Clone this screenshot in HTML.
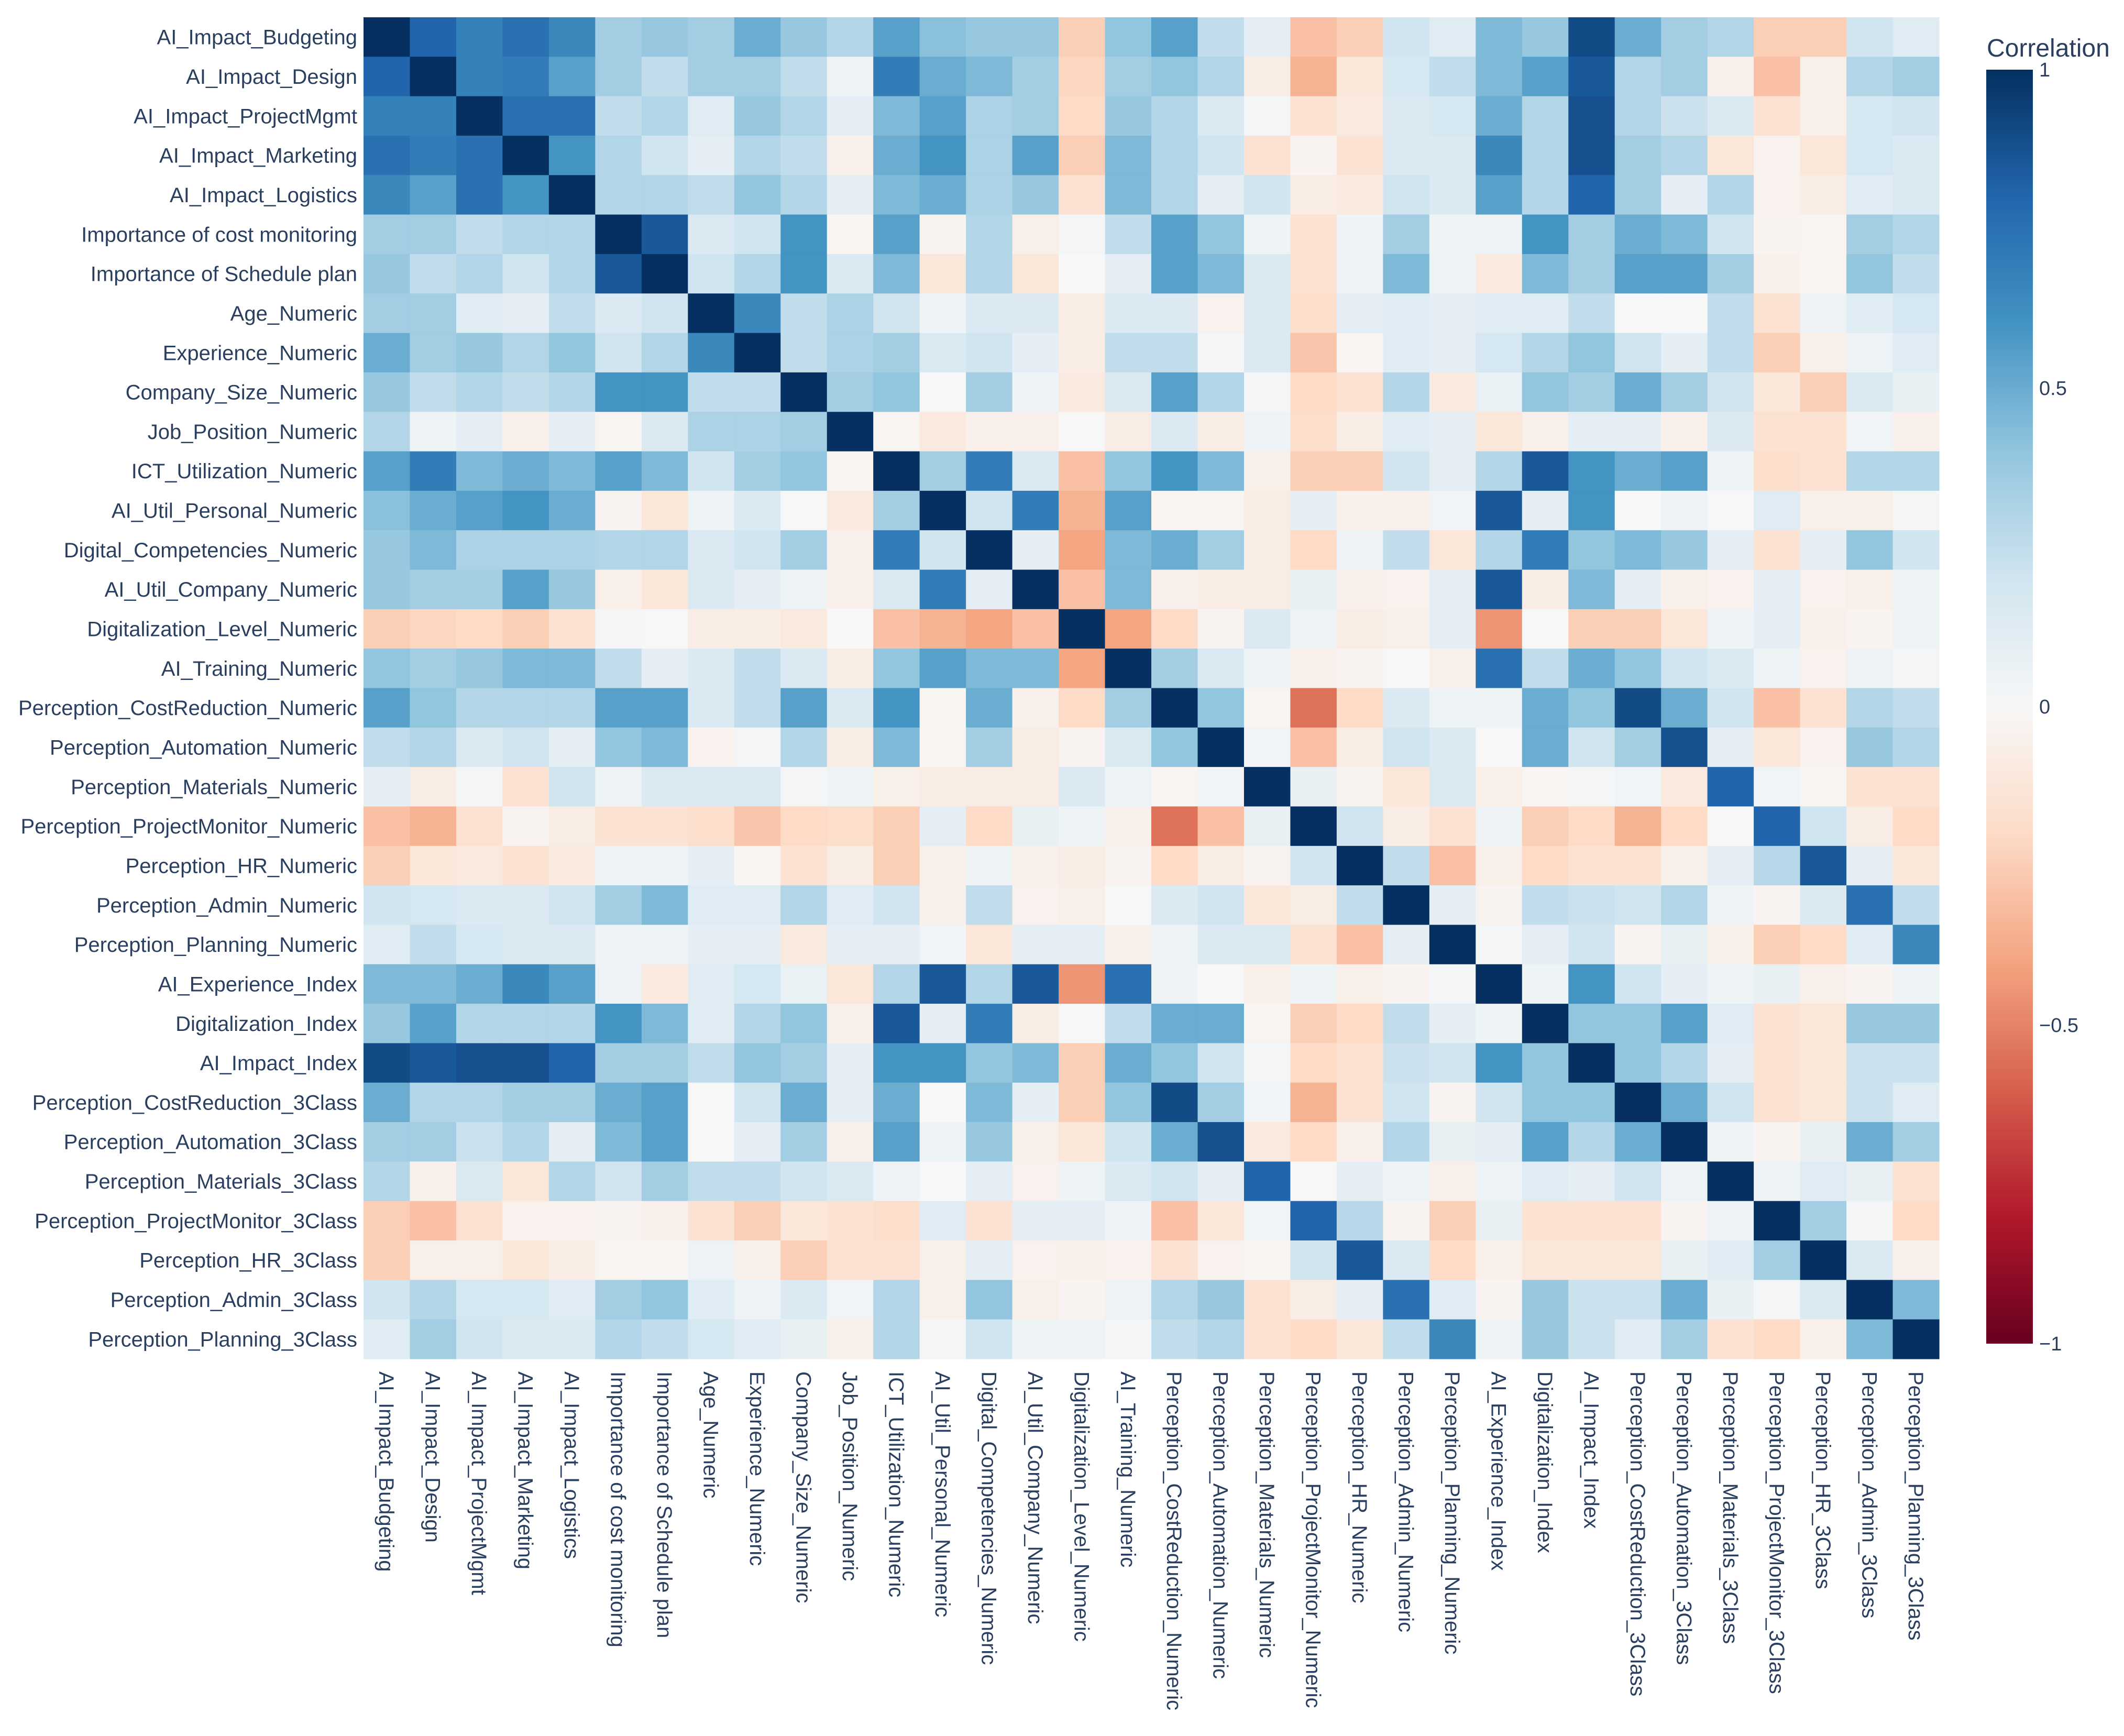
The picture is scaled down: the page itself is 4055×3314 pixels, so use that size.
<!DOCTYPE html>
<html><head><meta charset="utf-8">
<style>
html,body{margin:0;padding:0;background:#fff;}
svg text{font-family:"Liberation Sans",Arial,sans-serif;fill:#2a3f5f;}
</style></head>
<body>
<svg id="chart" width="4055" height="3309" xmlns="http://www.w3.org/2000/svg">
<defs>
<linearGradient id="cbgrad" x1="0" y1="0" x2="0" y2="1">
<stop offset="0" stop-color="#053061"/><stop offset="0.1" stop-color="#2166ac"/><stop offset="0.2" stop-color="#4393c3"/><stop offset="0.3" stop-color="#92c5de"/><stop offset="0.4" stop-color="#d1e5f0"/><stop offset="0.5" stop-color="#f7f7f7"/><stop offset="0.6" stop-color="#fddbc7"/><stop offset="0.7" stop-color="#f4a582"/><stop offset="0.8" stop-color="#d6604d"/><stop offset="0.9" stop-color="#b2182b"/><stop offset="1" stop-color="#67001f"/>
</linearGradient>
</defs>
<g id="cells"></g>
<g id="ylabels"></g>
<g id="xlabels"></g>
<g>
<text x="3793" y="108" font-size="48">Correlation</text>
<rect x="3792" y="133" width="89" height="2432" fill="url(#cbgrad)"/>
<g id="cbticks"></g>
</g>
</svg>
<script>
const labels = ["AI_Impact_Budgeting","AI_Impact_Design","AI_Impact_ProjectMgmt","AI_Impact_Marketing","AI_Impact_Logistics","Importance of cost monitoring","Importance of Schedule plan","Age_Numeric","Experience_Numeric","Company_Size_Numeric","Job_Position_Numeric","ICT_Utilization_Numeric","AI_Util_Personal_Numeric","Digital_Competencies_Numeric","AI_Util_Company_Numeric","Digitalization_Level_Numeric","AI_Training_Numeric","Perception_CostReduction_Numeric","Perception_Automation_Numeric","Perception_Materials_Numeric","Perception_ProjectMonitor_Numeric","Perception_HR_Numeric","Perception_Admin_Numeric","Perception_Planning_Numeric","AI_Experience_Index","Digitalization_Index","AI_Impact_Index","Perception_CostReduction_3Class","Perception_Automation_3Class","Perception_Materials_3Class","Perception_ProjectMonitor_3Class","Perception_HR_3Class","Perception_Admin_3Class","Perception_Planning_3Class"];
// lower triangle (row i, columns 0..i-1)
const lowerTriangle = [
[],
[0.8],
[0.68,0.68],
[0.75,0.7,0.75],
[0.65,0.55,0.75,0.6],
[0.35,0.35,0.25,0.3,0.3],
[0.38,0.25,0.3,0.2,0.3,0.85],
[0.35,0.35,0.12,0.1,0.25,0.15,0.2],
[0.5,0.35,0.38,0.3,0.4,0.2,0.3,0.65],
[0.38,0.25,0.3,0.25,0.3,0.6,0.6,0.25,0.25],
[0.3,0.05,0.1,-0.05,0.1,-0.02,0.15,0.32,0.32,0.35],
[0.55,0.7,0.45,0.5,0.45,0.55,0.45,0.2,0.35,0.4,-0.02],
[0.42,0.5,0.55,0.6,0.5,-0.03,-0.12,0.05,0.15,0.0,-0.1,0.35],
[0.38,0.45,0.32,0.32,0.32,0.3,0.3,0.15,0.2,0.35,-0.05,0.7,0.2],
[0.38,0.35,0.35,0.55,0.38,-0.06,-0.12,0.15,0.1,0.05,-0.05,0.15,0.7,0.1],
[-0.25,-0.22,-0.2,-0.25,-0.15,0.02,0.0,-0.08,-0.07,-0.1,0.0,-0.3,-0.35,-0.4,-0.3],
[0.4,0.35,0.38,0.45,0.45,0.25,0.1,0.15,0.25,0.15,-0.08,0.4,0.55,0.45,0.45,-0.4],
[0.55,0.4,0.3,0.3,0.3,0.55,0.55,0.15,0.25,0.55,0.15,0.6,-0.02,0.5,-0.05,-0.2,0.35],
[0.25,0.3,0.15,0.2,0.1,0.4,0.45,-0.04,0.02,0.3,-0.08,0.45,-0.02,0.35,-0.08,-0.03,0.15,0.4],
[0.1,-0.08,0.02,-0.15,0.2,0.05,0.15,0.15,0.15,0.02,0.05,-0.06,-0.08,-0.08,-0.08,0.15,0.05,-0.02,0.03],
[-0.3,-0.35,-0.15,-0.03,-0.08,-0.15,-0.15,-0.18,-0.28,-0.2,-0.18,-0.25,0.1,-0.2,0.08,0.05,-0.05,-0.55,-0.3,0.08],
[-0.25,-0.12,-0.1,-0.15,-0.1,0.05,0.05,0.1,-0.02,-0.15,-0.08,-0.25,-0.05,0.05,-0.05,-0.08,-0.03,-0.2,-0.08,-0.03,0.2],
[0.2,0.18,0.15,0.15,0.2,0.35,0.45,0.12,0.12,0.3,0.12,0.2,-0.05,0.25,-0.04,-0.06,0.0,0.15,0.2,-0.12,-0.08,0.25],
[0.12,0.25,0.18,0.15,0.15,0.05,0.05,0.1,0.1,-0.1,0.1,0.1,0.03,-0.12,0.1,0.1,-0.05,0.05,0.15,0.15,-0.15,-0.3,0.1],
[0.45,0.45,0.5,0.65,0.55,0.06,-0.1,0.12,0.18,0.07,-0.12,0.3,0.85,0.3,0.85,-0.45,0.75,0.05,0.0,-0.06,0.05,-0.06,-0.03,0.02],
[0.38,0.55,0.3,0.3,0.3,0.6,0.45,0.12,0.3,0.4,-0.05,0.85,0.1,0.7,-0.08,0.0,0.25,0.5,0.5,-0.02,-0.25,-0.2,0.25,0.1,0.05],
[0.9,0.85,0.88,0.88,0.8,0.35,0.35,0.25,0.4,0.35,0.1,0.6,0.6,0.4,0.45,-0.25,0.5,0.4,0.2,0.02,-0.2,-0.15,0.22,0.2,0.6,0.4],
[0.5,0.3,0.3,0.35,0.35,0.5,0.55,0.0,0.2,0.5,0.1,0.5,0.0,0.45,0.1,-0.25,0.4,0.9,0.35,0.03,-0.35,-0.15,0.2,-0.03,0.2,0.4,0.4],
[0.35,0.35,0.22,0.3,0.1,0.45,0.55,0.0,0.1,0.35,-0.05,0.55,0.05,0.38,-0.06,-0.12,0.2,0.5,0.88,-0.1,-0.2,-0.05,0.3,0.08,0.1,0.55,0.3,0.5],
[0.3,-0.05,0.15,-0.12,0.3,0.2,0.35,0.25,0.25,0.2,0.15,0.05,0.0,0.1,-0.04,0.05,0.15,0.2,0.1,0.8,0.0,0.1,0.05,-0.06,0.05,0.12,0.1,0.2,0.05],
[-0.25,-0.3,-0.15,-0.04,-0.04,-0.03,-0.05,-0.15,-0.25,-0.12,-0.15,-0.18,0.12,-0.15,0.1,0.1,0.05,-0.3,-0.12,0.03,0.8,0.28,-0.03,-0.25,0.08,-0.15,-0.15,-0.15,-0.03,0.05],
[-0.25,-0.06,-0.06,-0.12,-0.08,-0.02,-0.02,0.06,-0.06,-0.25,-0.15,-0.15,-0.06,0.1,-0.04,-0.05,-0.04,-0.15,-0.04,-0.02,0.2,0.85,0.15,-0.2,-0.05,-0.12,-0.12,-0.12,0.08,0.12,0.35],
[0.2,0.3,0.18,0.18,0.12,0.35,0.4,0.12,0.06,0.15,0.03,0.3,-0.06,0.4,-0.06,-0.03,0.06,0.3,0.38,-0.15,-0.08,0.1,0.75,0.12,-0.03,0.38,0.22,0.22,0.5,0.08,0.02,0.15],
[0.12,0.35,0.2,0.15,0.15,0.3,0.25,0.18,0.12,0.08,-0.05,0.3,0.02,0.2,0.05,0.05,0.02,0.25,0.3,-0.15,-0.2,-0.12,0.25,0.65,0.05,0.38,0.22,0.12,0.35,-0.15,-0.2,-0.05,0.45]
];
const cbTickValues = [1, 0.5, 0, -0.5, -1];
const cbTickLabels = ["1", "0.5", "0", "\u22120.5", "\u22121"];

const NS = "http://www.w3.org/2000/svg";
const X0 = 694, X1 = 3702, Y0 = 33, Y1 = 2594;
const n = labels.length;
const cw = (X1 - X0) / n, ch = (Y1 - Y0) / n;
const xPos = i => X0 + i * cw;
const yPos = i => Y0 + i * ch;
const CB_TOP = 133, CB_BOT = 2565;
const cbY = v => CB_TOP + (1 - v) / 2 * (CB_BOT - CB_TOP);

const stops = ["#67001f","#b2182b","#d6604d","#f4a582","#fddbc7","#f7f7f7","#d1e5f0","#92c5de","#4393c3","#2166ac","#053061"];
function hex(h){return [1,3,5].map(k=>parseInt(h.substr(k,2),16));}
function color(v){
  let t = (v + 1) / 2 * 10; t = Math.max(0, Math.min(10, t));
  const i = Math.min(9, Math.floor(t)), f = t - i;
  const a = hex(stops[i]), b = hex(stops[i+1]);
  return "rgb(" + a.map((c,k)=>Math.round(c + (b[k]-c)*f)).join(",") + ")";
}
function val(i,j){
  if (i === j) return 1;
  return i > j ? lowerTriangle[i][j] : lowerTriangle[j][i];
}
const cells = document.getElementById("cells");
for (let i = 0; i < n; i++) {
  for (let j = 0; j < n; j++) {
    const r = document.createElementNS(NS, "rect");
    r.setAttribute("x", xPos(j).toFixed(2));
    r.setAttribute("y", yPos(i).toFixed(2));
    r.setAttribute("width", (cw + 0.6).toFixed(2));
    r.setAttribute("height", (ch + 0.6).toFixed(2));
    r.setAttribute("fill", color(val(i, j)));
    
    
    cells.appendChild(r);
  }
}
const yl = document.getElementById("ylabels");
const xl = document.getElementById("xlabels");
for (let i = 0; i < n; i++) {
  const t = document.createElementNS(NS, "text");
  t.setAttribute("x", X0 - 12);
  t.setAttribute("y", (yPos(i) + ch / 2 + 14).toFixed(1));
  t.setAttribute("font-size", "40");
  t.setAttribute("text-anchor", "end");
  t.textContent = labels[i];
  
  
  yl.appendChild(t);
  const u = document.createElementNS(NS, "text");
  const cx = xPos(i) + cw / 2 - 14, cy = 2618;
  u.setAttribute("x", cx.toFixed(1));
  u.setAttribute("y", cy);
  u.setAttribute("font-size", "40");
  u.setAttribute("transform", "rotate(90 " + cx.toFixed(1) + " " + cy + ")");
  u.textContent = labels[i];
  
  
  xl.appendChild(u);
}
const cbt = document.getElementById("cbticks");
cbTickValues.forEach((v, k) => {
  const t = document.createElementNS(NS, "text");
  t.setAttribute("x", 3893);
  t.setAttribute("y", (cbY(v) + 13).toFixed(1));
  t.setAttribute("font-size", "38");
  t.textContent = cbTickLabels[k];
  
  
  cbt.appendChild(t);
});
</script>
</body></html>
